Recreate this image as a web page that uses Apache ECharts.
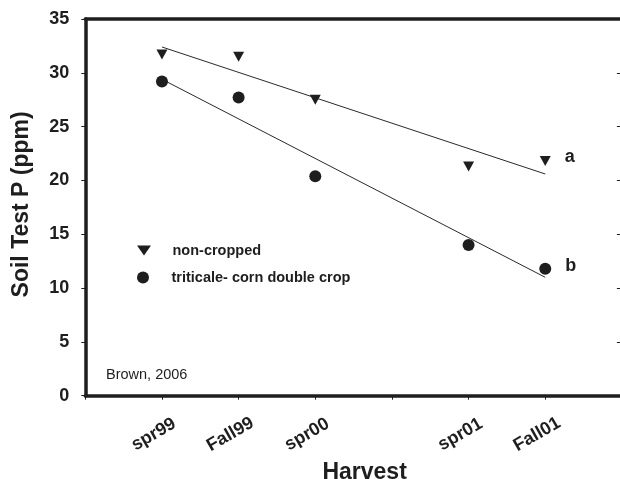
<!DOCTYPE html>
<html>
<head>
<meta charset="utf-8">
<script src="https://cdn.jsdelivr.net/npm/echarts@6/dist/echarts.min.js"></script>
<style>
html,body{margin:0;padding:0;background:#fff;}
#chart{width:620px;height:479px;}
</style>
</head>
<body>
<div id="chart"></div>
<script>
// ---- data ----
const tickLabels = ['', 'spr99', 'Fall99', 'spr00', '', 'spr01', 'Fall01', ''];
const harvestPos = [1, 2, 3, 5, 6];
const nonCropped = [31.7, 31.5, 27.5, 21.3, 21.8];
const doubleCrop = [29.2, 27.7, 20.4, 14.0, 11.8];
const trendNonCropped = [[1, 32.4], [6, 20.6]];
const trendDoubleCrop = [[1, 29.4], [6, 11.0]];
const seriesNames = ['non-cropped', 'triticale- corn double crop'];
const groupLetters = ['a', 'b'];

const FONT = "'Liberation Sans', Arial, Helvetica, sans-serif";
const INK = '#1e1e1e';
const TRI = 'path://M0,0L14,0L7,10Z';

function pts(vals, letter) {
  return harvestPos.map((x, i) => {
    const d = { value: [x, vals[i]] };
    if (i === harvestPos.length - 1) {
      d.label = { show: true, formatter: letter };
    }
    return d;
  });
}

const chart = echarts.init(document.getElementById('chart'), null, { renderer: 'canvas' });
chart.setOption({
  animation: false,
  backgroundColor: '#fff',
  grid: { left: 85.3, top: 19, width: 536.6, height: 376.7, containLabel: false, outerBoundsMode: 'none' },
  legend: [
    {
      data: [{ name: seriesNames[0], icon: TRI }],
      orient: 'vertical', left: 137, top: 243, padding: 0,
      itemWidth: 47, itemHeight: 10, selectedMode: false,
      itemStyle: { opacity: 1 },
      textStyle: { fontFamily: FONT, fontSize: 14.5, fontWeight: 'bold', color: INK }
    },
    {
      data: [{ name: seriesNames[1], icon: 'circle' }],
      orient: 'vertical', left: 137, top: 270, padding: 0,
      itemWidth: 47, itemHeight: 12, selectedMode: false,
      itemStyle: { opacity: 1 },
      textStyle: { fontFamily: FONT, fontSize: 14.5, fontWeight: 'bold', color: INK }
    }
  ],
  xAxis: [
    {
      type: 'value', position: 'bottom', min: 0, max: 7, interval: 1,
      name: 'Harvest', nameLocation: 'middle', nameGap: 57,
      nameTextStyle: { fontFamily: FONT, fontSize: 23, fontWeight: 'bold', color: INK, padding: [0, 0, 0, 22] },
      axisLine: { show: true, onZero: false, lineStyle: { color: INK, width: 3.5 } },
      axisTick: { show: true, inside: false, length: 4, lineStyle: { color: INK, width: 1 } },
      axisLabel: {
        show: true, rotate: 30, margin: 34, align: 'center', verticalAlign: 'middle',
        padding: [0, 19, 0, 0],
        fontFamily: FONT, fontSize: 18, fontWeight: 'bold', color: INK,
        showMinLabel: true, showMaxLabel: true,
        formatter: v => tickLabels[Math.round(v)] || ''
      },
      splitLine: { show: false }
    },
    {
      type: 'value', position: 'top', min: 0, max: 7, interval: 1,
      axisLine: { show: true, onZero: false, lineStyle: { color: INK, width: 3.5 } },
      axisTick: { show: false }, axisLabel: { show: false }, splitLine: { show: false }
    }
  ],
  yAxis: [
    {
      type: 'value', position: 'left', min: 0, max: 35, interval: 5,
      name: 'Soil Test P (ppm)', nameLocation: 'middle', nameGap: 52, nameRotate: 90,
      nameTextStyle: { fontFamily: FONT, fontSize: 23, fontWeight: 'bold', color: INK, padding: [0, 0, 0, 6] },
      axisLine: { show: true, onZero: false, lineStyle: { color: INK, width: 3.5 } },
      axisTick: { show: true, inside: false, length: 4, lineStyle: { color: INK, width: 1 } },
      axisLabel: { margin: 16, fontFamily: FONT, fontSize: 18, fontWeight: 'bold', color: INK },
      splitLine: { show: false }
    },
    {
      type: 'value', position: 'right', min: 0, max: 35, interval: 5,
      axisLine: { show: true, onZero: false, lineStyle: { color: INK, width: 3.5 } },
      axisTick: { show: true, inside: true, length: 5, lineStyle: { color: INK, width: 1 } },
      axisLabel: { show: false }, splitLine: { show: false }
    }
  ],
  series: [
    {
      name: seriesNames[0], type: 'scatter', symbol: TRI, symbolSize: [11, 10],
      itemStyle: { color: INK, opacity: 1 },
      label: { show: false, position: 'right', distance: 14, offset: [0, -4],
               fontFamily: FONT, fontSize: 18, fontWeight: 'bold', color: INK },
      data: pts(nonCropped, groupLetters[0]), z: 3
    },
    {
      name: seriesNames[1], type: 'scatter', symbol: 'circle', symbolSize: 12,
      itemStyle: { color: INK, opacity: 1 },
      label: { show: false, position: 'right', distance: 14, offset: [0, -3],
               fontFamily: FONT, fontSize: 18, fontWeight: 'bold', color: INK },
      data: pts(doubleCrop, groupLetters[1]), z: 3
    },
    {
      name: 'trendA', type: 'line', data: trendNonCropped, symbol: 'none',
      lineStyle: { color: '#2a2a2a', width: 1 }, silent: true, z: 2
    },
    {
      name: 'trendB', type: 'line', data: trendDoubleCrop, symbol: 'none',
      lineStyle: { color: '#2a2a2a', width: 1 }, silent: true, z: 2
    }
  ],
  graphic: [
    {
      type: 'text', left: 106, top: 367,
      style: { text: 'Brown, 2006', font: "14.5px 'Liberation Sans', Arial, sans-serif", fill: INK }
    }
  ]
});
</script>
</body>
</html>
